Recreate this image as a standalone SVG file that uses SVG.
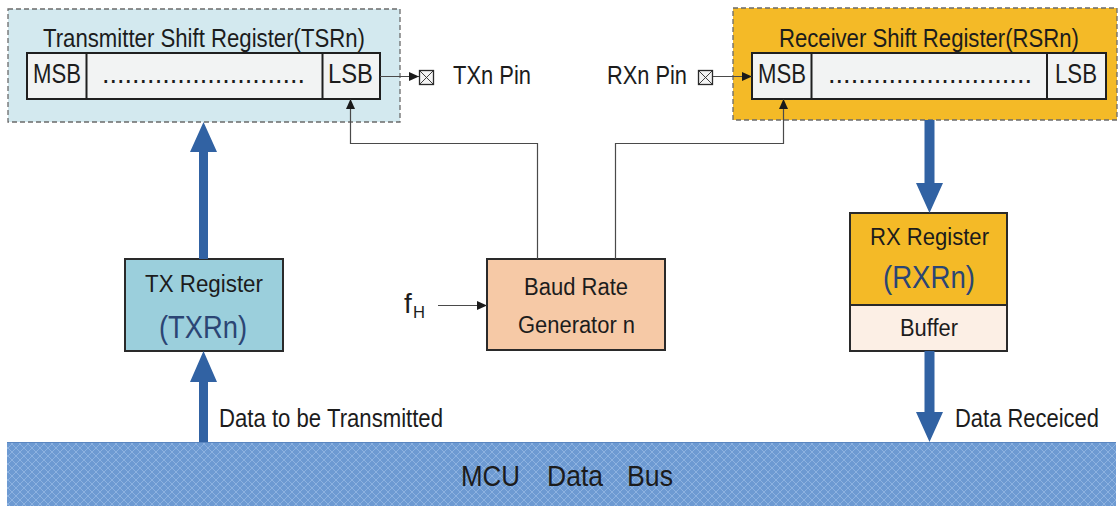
<svg xmlns="http://www.w3.org/2000/svg" width="1118" height="506" viewBox="0 0 1118 506">
<style>
.t{font-family:"Liberation Sans",Arial,sans-serif;fill:#1c1c1c}
.reg{fill:#f2f3f3;stroke:#1f1f1f;stroke-width:2}
.box{stroke:#2a2a2a;stroke-width:2}
.dash{stroke:#6b6b6b;stroke-width:1.3;stroke-dasharray:5 3}
.thin{fill:none;stroke:#4a4a4a;stroke-width:1.2}
.big{fill:#3162a3}
.blue{fill:#2b4574}
.pin{fill:#f4f4f4;stroke:#2a2a2a;stroke-width:1.3}
.pinx{stroke:#2a2a2a;stroke-width:0.9}
</style>
<defs>
<marker id="ah" viewBox="0 0 10 10" refX="10" refY="5" markerWidth="10" markerHeight="10" markerUnits="userSpaceOnUse" orient="auto">
<path d="M0,0.5 L10,5 L0,9.5 Z" fill="#1a1a1a"/>
</marker>
<pattern id="hatch" width="8" height="8" patternUnits="userSpaceOnUse">
<rect width="8" height="8" fill="#6d9ad2"/>
<path d="M0,0 L8,8 M8,0 L0,8" stroke="#8db2e0" stroke-width="1"/>
</pattern>
</defs>

<g id="bus">
<rect x="7" y="442" width="1109" height="64" fill="url(#hatch)"/>
<line x1="7" y1="442.5" x2="1116" y2="442.5" stroke="#5a86c0" stroke-width="1"/>
<text class="t" y="486" font-size="30"><tspan x="461" textLength="59" lengthAdjust="spacingAndGlyphs">MCU</tspan><tspan x="547" textLength="56" lengthAdjust="spacingAndGlyphs">Data</tspan><tspan x="627" textLength="46" lengthAdjust="spacingAndGlyphs">Bus</tspan></text>
</g>

<g id="tsr">
<rect x="8" y="9" width="392" height="113" fill="#d3e9ef" class="dash"/>
<text class="t" x="43" y="47" font-size="25" textLength="322" lengthAdjust="spacingAndGlyphs">Transmitter Shift Register(TSRn)</text>
<rect x="27" y="53" width="353" height="46" class="reg"/>
<line x1="86.5" y1="53" x2="86.5" y2="99" stroke="#1f1f1f" stroke-width="2"/>
<line x1="322.5" y1="53" x2="322.5" y2="99" stroke="#1f1f1f" stroke-width="2"/>
<text class="t" x="33" y="83" font-size="27" textLength="48" lengthAdjust="spacingAndGlyphs">MSB</text>
<text class="t" x="102" y="83" font-size="27" textLength="203" lengthAdjust="spacingAndGlyphs">...........................</text>
<text class="t" x="328" y="83" font-size="27" textLength="45" lengthAdjust="spacingAndGlyphs">LSB</text>
</g>

<g id="tx-pin">
<rect x="419.5" y="70.5" width="14" height="14" class="pin"/>
<path d="M419.5,70.5 L433.5,84.5 M433.5,70.5 L419.5,84.5" class="pinx"/>
<text class="t" x="453" y="84" font-size="26" textLength="78" lengthAdjust="spacingAndGlyphs">TXn Pin</text>
</g>

<g id="rsr">
<rect x="733" y="8" width="384" height="112" fill="#f4ba27" class="dash"/>
<text class="t" x="779" y="47" font-size="25" textLength="300" lengthAdjust="spacingAndGlyphs">Receiver Shift Register(RSRn)</text>
<rect x="752" y="53" width="354" height="46" class="reg"/>
<line x1="811.5" y1="53" x2="811.5" y2="99" stroke="#1f1f1f" stroke-width="2"/>
<line x1="1047" y1="53" x2="1047" y2="99" stroke="#1f1f1f" stroke-width="2"/>
<text class="t" x="758" y="83" font-size="27" textLength="48" lengthAdjust="spacingAndGlyphs">MSB</text>
<text class="t" x="828" y="83" font-size="27" textLength="204" lengthAdjust="spacingAndGlyphs">...........................</text>
<text class="t" x="1055" y="83" font-size="27" textLength="42" lengthAdjust="spacingAndGlyphs">LSB</text>
</g>

<g id="rx-pin">
<rect x="698.5" y="70.5" width="14" height="14" class="pin"/>
<path d="M698.5,70.5 L712.5,84.5 M712.5,70.5 L698.5,84.5" class="pinx"/>
<text class="t" x="607" y="84" font-size="26" textLength="80" lengthAdjust="spacingAndGlyphs">RXn Pin</text>
</g>

<g id="txr">
<rect x="125" y="259" width="158" height="92" fill="#9bcfdc" class="box"/>
<text class="t" x="145" y="292" font-size="23" textLength="118" lengthAdjust="spacingAndGlyphs">TX Register</text>
<text class="t blue" x="159" y="338" font-size="31" textLength="88" lengthAdjust="spacingAndGlyphs">(TXRn)</text>
</g>

<g id="brg">
<rect x="487" y="259" width="178" height="91" fill="#f6c9a6" class="box"/>
<text class="t" x="524" y="295" font-size="23" textLength="104" lengthAdjust="spacingAndGlyphs">Baud Rate</text>
<text class="t" x="518" y="333" font-size="23" textLength="117" lengthAdjust="spacingAndGlyphs">Generator n</text>
</g>

<g id="fh">
<text class="t" x="404" y="313" font-size="28">f<tspan x="413" y="318" font-size="17" textLength="12" lengthAdjust="spacingAndGlyphs">H</tspan></text>
</g>

<g id="rxr">
<rect x="850" y="213" width="157" height="92" fill="#f4ba27" class="box"/>
<rect x="850" y="305" width="157" height="46" fill="#fcefe5" class="box"/>
<text class="t" x="870" y="245" font-size="23" textLength="119" lengthAdjust="spacingAndGlyphs">RX Register</text>
<text class="t blue" x="883" y="288" font-size="31" textLength="92" lengthAdjust="spacingAndGlyphs">(RXRn)</text>
<text class="t" x="900" y="336" font-size="23" textLength="58" lengthAdjust="spacingAndGlyphs">Buffer</text>
</g>

<g id="labels">
<text class="t" x="219" y="427" font-size="25" textLength="224" lengthAdjust="spacingAndGlyphs">Data to be Transmitted</text>
<text class="t" x="955" y="427" font-size="25" textLength="144" lengthAdjust="spacingAndGlyphs">Data Receiced</text>
</g>

<g id="connectors">
<path d="M380,76.5 H419" class="thin" marker-end="url(#ah)"/>
<path d="M713,76.5 H752" class="thin" marker-end="url(#ah)"/>
<path d="M537.5,259 V143.5 H350.5 V99" class="thin" marker-end="url(#ah)"/>
<path d="M615.5,259 V143.5 H783.5 V99" class="thin" marker-end="url(#ah)"/>
<path d="M438,305.5 H487" class="thin" marker-end="url(#ah)"/>
<path d="M199,259 V152 H190 L203.5,122 L217,152 H208 V259 Z" class="big"/>
<path d="M199,442 V382 H190 L203.5,351 L217,382 H208 V442 Z" class="big"/>
<path d="M924.5,120 V183 H916 L929.5,213 L943,183 H934.5 V120 Z" class="big"/>
<path d="M924.5,351 V412 H916 L929.5,442 L943,412 H934.5 V351 Z" class="big"/>
</g>
</svg>
